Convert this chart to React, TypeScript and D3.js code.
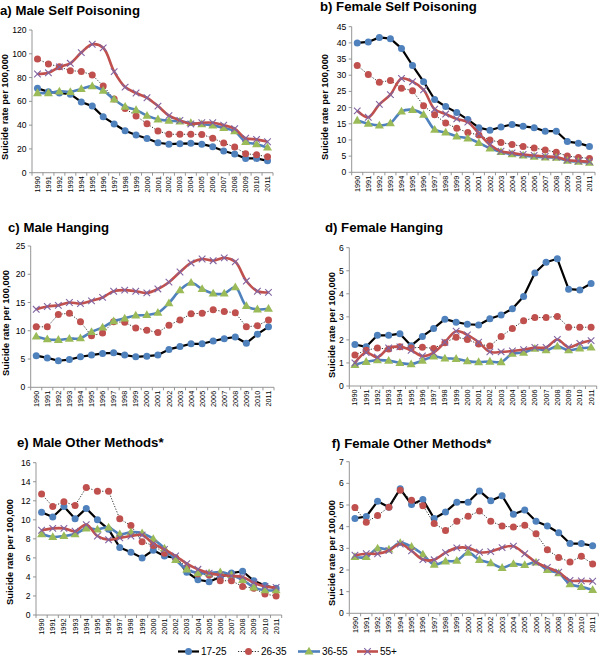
import React from 'react';
import * as d3 from 'd3';

const years = ['1990','1991','1992','1993','1994','1995','1996','1997','1998','1999','2000','2001','2002','2003','2004','2005','2006','2007','2008','2009','2010','2011'];
const ageGroups = ['17-25', '26-35', '36-55', '55+'];

// a) Male self poisoning
const maleSP_17_25 = [71, 68, 67, 66, 59.5, 56, 47, 41, 35.3, 31.7, 28.7, 25.2, 24, 24.4, 24.7, 24, 21.9, 18.2, 15.7, 12, 12, 10];
const maleSP_26_35 = [95.6, 91.5, 89, 85.8, 85.2, 82.2, 73, 62, 54, 47.7, 41.2, 35, 32.3, 32.3, 32.3, 32.2, 29, 25, 21.6, 16, 15, 13.5];
const maleSP_36_55 = [67, 67, 68.4, 68, 70.4, 72.8, 69, 61.7, 55.5, 52.7, 48, 44.9, 43.7, 43.2, 41.8, 40.8, 39.8, 37.6, 35, 26, 24, 21.3];
const maleSP_55p = [83, 84, 89, 92, 101, 108, 105, 85, 72, 67, 63, 56, 48, 44, 41, 42, 42, 40, 37, 29, 28, 26];
const maleSPTicks = [0, 20, 40, 60, 80, 100, 120];

// b) Female self poisoning
const femaleSP_17_25 = [40, 40.3, 41.7, 41.3, 38.3, 33, 28, 22.5, 20.3, 18.5, 16.3, 13.8, 13, 14, 14.8, 14.2, 13.8, 12.7, 12.7, 9.5, 9, 8];
const femaleSP_26_35 = [33, 30.2, 27.8, 28.4, 26, 25.2, 20.6, 17.8, 15.2, 13.6, 12.3, 11.5, 10, 9.2, 8.6, 8, 7.5, 6.9, 6.2, 5, 4.6, 4.3];
const femaleSP_36_55 = [16, 15, 14.5, 15.2, 18.8, 19.3, 17.8, 13.2, 12.3, 11.1, 10.5, 9.1, 7.4, 6.3, 5.6, 5.2, 4.8, 4.6, 4.5, 3.6, 3.3, 3];
const femaleSP_55p = [19, 17, 21, 24, 29, 28, 25.5, 19.5, 18, 16.5, 15.5, 12, 8.5, 6.5, 6, 5.5, 5.2, 4.9, 4.7, 3.8, 3.5, 3.3];
const femaleSPTicks = [0, 5, 10, 15, 20, 25, 30, 35, 40, 45];

// c) Male hanging
const maleH_17_25 = [5.6, 5.2, 4.7, 4.9, 5.4, 5.7, 6.0, 6.1, 5.7, 5.4, 5.5, 5.7, 6.7, 7.2, 7.7, 7.7, 8.2, 8.6, 8.9, 7.8, 9.4, 10.7];
const maleH_26_35 = [10.7, 10.7, 12.9, 13.1, 11.6, 9.1, 9.6, 11.6, 11.5, 10.5, 10.1, 9.7, 11.0, 11.9, 13.0, 13.1, 13.7, 13.4, 13.2, 10.7, 10.9, 11.9];
const maleH_36_55 = [9.0, 8.5, 8.4, 8.6, 8.7, 9.8, 10.6, 11.7, 12.2, 12.7, 12.8, 13.2, 14.9, 17.2, 18.5, 17.4, 16.6, 16.6, 17.7, 14.4, 13.8, 13.9];
const maleH_55p = [13.8, 14.3, 14.5, 15.0, 14.8, 15.3, 15.9, 17.0, 17.2, 17.0, 16.7, 17.4, 18.6, 20.4, 22.0, 22.7, 22.4, 22.9, 22.2, 18.8, 17.0, 16.8];
const maleHTicks = [0, 5, 10, 15, 20, 25];

// d) Female hanging
const femaleH_17_25 = [1.8, 1.7, 2.2, 2.2, 2.27, 1.75, 2.15, 2.5, 2.9, 2.77, 2.68, 2.65, 2.92, 3.08, 3.35, 3.88, 4.9, 5.37, 5.52, 4.2, 4.17, 4.45];
const femaleH_26_35 = [1.35, 1.55, 1.65, 1.6, 1.7, 1.65, 1.68, 1.63, 1.88, 2.12, 2.02, 1.82, 1.73, 2.15, 2.5, 2.83, 2.97, 2.97, 3.02, 2.55, 2.55, 2.55];
const femaleH_36_55 = [0.92, 1.05, 1.12, 1.1, 1.0, 0.95, 1.1, 1.28, 1.2, 1.18, 1.08, 1.04, 1.06, 1.04, 1.4, 1.45, 1.62, 1.55, 1.72, 1.55, 1.63, 1.67];
const femaleH_55p = [1.0, 1.45, 1.25, 1.65, 1.7, 1.55, 1.3, 1.45, 1.9, 2.38, 2.22, 1.9, 1.48, 1.48, 1.52, 1.58, 1.67, 1.67, 2.02, 1.68, 1.85, 1.97];
const femaleHTicks = [0, 1, 2, 3, 4, 5, 6];

// e) Male other methods
const maleO_17_25 = [10.8, 10.3, 11.4, 10.1, 11.2, 10.0, 9.0, 7.1, 6.6, 6.0, 6.8, 6.2, 6.0, 4.5, 3.7, 3.5, 4.0, 4.4, 4.6, 3.6, 3.1, 2.8];
const maleO_26_35 = [12.7, 11.4, 11.9, 11.5, 13.4, 13.0, 13.0, 10.1, 9.4, 7.7, 7.3, 6.5, 6.0, 5.0, 4.3, 4.2, 3.6, 3.6, 3.0, 2.8, 2.2, 2.0];
const maleO_36_55 = [8.5, 8.2, 8.3, 8.5, 9.1, 9.0, 9.2, 8.5, 8.7, 8.6, 8.0, 7.0, 5.8, 4.8, 4.4, 4.4, 4.5, 4.2, 3.7, 2.9, 2.6, 2.6];
const maleO_55p = [8.9, 9.1, 9.1, 8.8, 9.5, 8.3, 7.9, 8.1, 8.3, 8.4, 7.5, 6.9, 6.2, 5.4, 4.8, 4.4, 4.2, 4.1, 4.0, 3.4, 3.0, 2.9];
const maleOTicks = [0, 2, 4, 6, 8, 10, 12, 14, 16];

// f) Female other methods
const femaleO_17_25 = [4.38, 4.47, 5.17, 4.9, 5.75, 5.02, 5.25, 4.38, 4.68, 5.13, 5.13, 5.65, 5.2, 5.43, 4.57, 4.77, 4.25, 4.03, 3.72, 3.22, 3.22, 3.12];
const femaleO_26_35 = [4.88, 4.2, 4.52, 4.9, 5.68, 5.22, 4.97, 4.15, 3.82, 4.25, 4.48, 4.72, 4.25, 4.03, 3.98, 4.07, 3.67, 2.93, 2.58, 2.37, 2.63, 2.28];
const femaleO_36_55 = [2.6, 2.6, 3.0, 2.95, 3.25, 3.07, 2.72, 2.25, 2.4, 2.43, 2.8, 2.47, 2.32, 2.1, 2.28, 2.23, 2.35, 2.0, 1.85, 1.35, 1.22, 1.08];
const femaleO_55p = [2.68, 2.75, 2.75, 2.9, 3.2, 2.88, 2.48, 2.47, 2.8, 3.02, 3.02, 2.82, 2.85, 3.03, 3.1, 2.75, 2.35, 2.12, 1.9, 1.52, 1.5, 1.48];
const femaleOTicks = [0, 1, 2, 3, 4, 5, 6, 7];

const titles = ['a) Male Self Poisoning', 'b) Female Self Poisoning', 'c) Male Hanging', 'd) Female Hanging', 'e) Male Other Methods*', 'f) Female Other Methods*'];
const yAxisLabel = 'Suicide rate per 100,000';

const panelData = [
  [maleSP_17_25, maleSP_26_35, maleSP_36_55, maleSP_55p],
  [femaleSP_17_25, femaleSP_26_35, femaleSP_36_55, femaleSP_55p],
  [maleH_17_25, maleH_26_35, maleH_36_55, maleH_55p],
  [femaleH_17_25, femaleH_26_35, femaleH_36_55, femaleH_55p],
  [maleO_17_25, maleO_26_35, maleO_36_55, maleO_55p],
  [femaleO_17_25, femaleO_26_35, femaleO_36_55, femaleO_55p],
];
const panelTicks = [maleSPTicks, femaleSPTicks, maleHTicks, femaleHTicks, maleOTicks, femaleOTicks];

// layout (pixels)
const layouts = [
  { x0: 32, x1: 273, yT: 30, yB: 172.7, tx: 0, ty: 14.5, lx: 4.8, ly: 107 },
  { x0: 351.7, x1: 595, yT: 26.7, yB: 172.3, tx: 320, ty: 10.8, lx: 325, ly: 107 },
  { x0: 30.7, x1: 274, yT: 246, yB: 387.3, tx: 8, ty: 231.5, lx: 6, ly: 323 },
  { x0: 349.3, x1: 596.7, yT: 247.7, yB: 386, tx: 325, ty: 231.5, lx: 331.5, ly: 325 },
  { x0: 36, x1: 281.7, yT: 462.7, yB: 615, tx: 17, ty: 446.5, lx: 10, ly: 552 },
  { x0: 349.3, x1: 598.3, yT: 461.7, yB: 613.3, tx: 331.7, ty: 448.3, lx: 331.5, ly: 553 },
];

const COL = { blue: '#4f81bd', red: '#c0504d', green: '#9bbb59', purple: '#8064a2', axis: '#8a8a8a' };
const FONT = '"Liberation Sans", Arial, Helvetica, sans-serif';

const seriesStyles = [
  { stroke: '#000', width: 2.2, dash: undefined as string | undefined, curve: d3.curveLinear as d3.CurveFactory, marker: 'circle', fill: COL.blue },
  { stroke: '#333', width: 1, dash: '1.2,1.6', curve: d3.curveLinear as d3.CurveFactory, marker: 'circle', fill: COL.red },
  { stroke: COL.blue, width: 2.6, dash: undefined, curve: d3.curveCatmullRom.alpha(0.5) as d3.CurveFactory, marker: 'triangle', fill: COL.green },
  { stroke: COL.red, width: 2.6, dash: undefined, curve: d3.curveCatmullRom.alpha(0.5) as d3.CurveFactory, marker: 'x', fill: COL.purple },
];

function Marker({ kind, x, y, fill }: { kind: string; x: number; y: number; fill: string }) {
  if (kind === 'circle') return <circle cx={x} cy={y} r={3.5} fill={fill} />;
  if (kind === 'triangle') return <path d={`M${x},${y - 4.7} L${x + 4.5},${y + 3.1} L${x - 4.5},${y + 3.1} Z`} fill={fill} />;
  const s = 3.3;
  return (
    <path d={`M${x - s},${y - s} L${x + s},${y + s} M${x - s},${y + s} L${x + s},${y - s}`} stroke={fill} strokeWidth={1.1} fill="none" />
  );
}

function Panel({ idx }: { idx: number }) {
  const L = layouts[idx];
  const ticks = panelTicks[idx];
  const x = d3.scaleBand<string>().domain(years).range([L.x0, L.x1]);
  const y = d3.scaleLinear().domain([0, ticks[ticks.length - 1]]).range([L.yB, L.yT]);
  const bw = x.bandwidth();
  const cx = (yr: string) => (x(yr) as number) + bw / 2;
  const boundaries = d3.range(years.length + 1).map((i) => L.x0 + i * bw);
  return (
    <g>
      <text x={L.tx} y={L.ty} fontFamily={FONT} fontWeight="bold" fontSize={13.2} fill="#000">{titles[idx]}</text>
      <text transform={`translate(${L.lx},${L.ly}) rotate(-90)`} textAnchor="middle" dy="0.35em" fontFamily={FONT} fontWeight="bold" fontSize={9.3} fill="#000">{yAxisLabel}</text>
      <line x1={L.x0} x2={L.x0} y1={L.yT} y2={L.yB} stroke={COL.axis} strokeWidth={0.9} />
      {ticks.map((t) => (
        <g key={t}>
          <line x1={L.x0 - 3} x2={L.x0} y1={y(t)} y2={y(t)} stroke={COL.axis} strokeWidth={0.9} />
          <text x={L.x0 - 5.5} y={y(t)} dy="0.35em" textAnchor="end" fontFamily={FONT} fontSize={8.6} fill="#000">{t}</text>
        </g>
      ))}
      <line x1={L.x0} x2={L.x1} y1={L.yB} y2={L.yB} stroke={COL.axis} strokeWidth={0.9} />
      {boundaries.map((b, i) => (
        <line key={i} x1={b} x2={b} y1={L.yB} y2={L.yB + 3} stroke={COL.axis} strokeWidth={0.9} />
      ))}
      {years.map((yr) => (
        <text key={yr} transform={`translate(${cx(yr)},${L.yB + 3.5}) rotate(-90)`} textAnchor="end" dy="0.35em" fontFamily={FONT} fontSize={7.3} fill="#000">{yr}</text>
      ))}
      {panelData[idx].map((vals, s) => {
        const st = seriesStyles[s];
        const line = d3.line<number>().x((_, i) => cx(years[i])).y((v) => y(v)).curve(st.curve);
        return (
          <g key={s}>
            <path d={line(vals) || ''} fill="none" stroke={st.stroke} strokeWidth={st.width} strokeDasharray={st.dash} strokeLinejoin="round" />
            {vals.map((v, i) => (
              <Marker key={i} kind={st.marker} x={cx(years[i])} y={y(v)} fill={st.fill} />
            ))}
          </g>
        );
      })}
    </g>
  );
}

const legendPos = [
  { l0: 178, l1: 199, tx: 201 },
  { l0: 238, l1: 259, tx: 261 },
  { l0: 298, l1: 320, tx: 322 },
  { l0: 357, l1: 378, tx: 380 },
];

export default function App() {
  const ly = 651.5;
  return (
    <svg width={600} height={658} style={{ position: 'absolute', left: 0, top: 0, background: '#fff' }}>
      <rect width={600} height={658} fill="#fff" />
      {layouts.map((_, i) => <Panel key={i} idx={i} />)}
      {ageGroups.map((g, s) => {
        const st = seriesStyles[s];
        const p = legendPos[s];
        return (
          <g key={g}>
            <line x1={p.l0} x2={p.l1} y1={ly} y2={ly} stroke={st.stroke} strokeWidth={st.width} strokeDasharray={st.dash} />
            <Marker kind={st.marker} x={(p.l0 + p.l1) / 2} y={ly} fill={st.fill} />
            <text x={p.tx} y={ly} dy="0.35em" fontFamily={FONT} fontSize={10} fill="#000">{g}</text>
          </g>
        );
      })}
    </svg>
  );
}
